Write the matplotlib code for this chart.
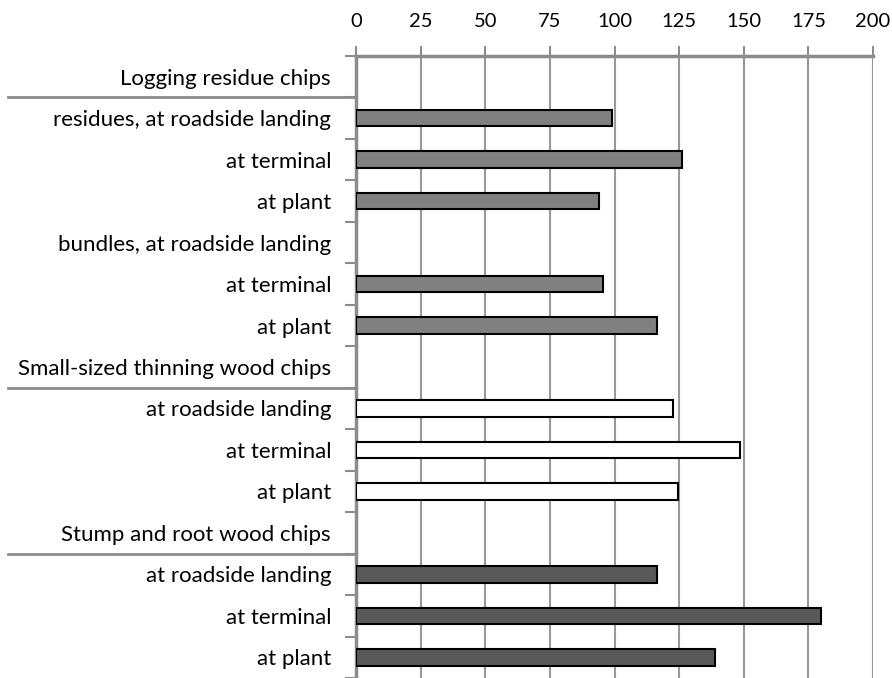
import matplotlib
matplotlib.use("Agg")
import matplotlib.pyplot as plt
import numpy as np

labels = ["Logging residue chips",
          "residues, at roadside landing", "at terminal", "at plant",
          "bundles, at roadside landing", "at terminal", "at plant",
          "Small-sized thinning wood chips",
          "at roadside landing", "at terminal", "at plant",
          "Stump and root wood chips",
          "at roadside landing", "at terminal", "at plant"]
values = [np.nan, 99.2, 126.0, 94.0, np.nan, 95.5, 116.5,
          np.nan, 122.7, 148.4, 124.4,
          np.nan, 116.5, 179.8, 139.0]
groups = ["h", "res", "res", "res", "res", "res", "res",
          "h", "thin", "thin", "thin",
          "h", "stump", "stump", "stump"]
group_colors = {"res": "#808080", "thin": "#ffffff", "stump": "#595959", "h": "#ffffff"}
separators_after = [0, 7, 11]
xticks = [0, 25, 50, 75, 100, 125, 150, 175, 200]

plt.rcParams['font.family'] = ['Lato', 'DejaVu Sans']
fig = plt.figure(figsize=(8.92, 6.78), dpi=100)
W, H = 892, 678
ax = fig.add_axes([356 / W, 0, (873 - 356) / W, (678 - 56) / H])

y = np.arange(len(labels))
for yi, v, g in zip(y, values, groups):
    if not np.isnan(v):
        ax.barh(yi, v, height=0.4, color=group_colors[g], edgecolor="black",
                linewidth=1.5, zorder=3)

ax.set_xlim(0, 200)
ax.set_ylim(len(labels) - 0.5, -0.5)
ax.set_xticks(xticks)
ax.xaxis.tick_top()
ax.tick_params(axis="x", direction="out", length=7, width=1.5, color="#8c8c8c",
               pad=12, labelsize=14.5)
ax.set_yticks(y)
ax.set_yticklabels(labels, fontsize=16)
ax.set_yticks(np.arange(-0.5, len(labels), 1.0), minor=True)
ax.tick_params(axis="y", which="major", length=0, pad=18)
ax.tick_params(axis="y", which="minor", length=8, width=1.5, color="#8c8c8c")
ax.grid(axis="x", color="#999999", linewidth=1.5, zorder=0)
ax.set_axisbelow(True)
for s in ["right", "bottom"]:
    ax.spines[s].set_visible(False)
for s in ["top", "left"]:
    ax.spines[s].set_color("#8c8c8c")
    ax.spines[s].set_linewidth(2.5)

x0 = (8 - 356) / (873 - 356)
for i in separators_after:
    yb = i + 0.5
    ax.plot([x0, 0], [yb, yb], color="#8c8c8c", linewidth=2,
            transform=ax.get_yaxis_transform(), clip_on=False, zorder=5)

fig.savefig("out.png", dpi=100)
